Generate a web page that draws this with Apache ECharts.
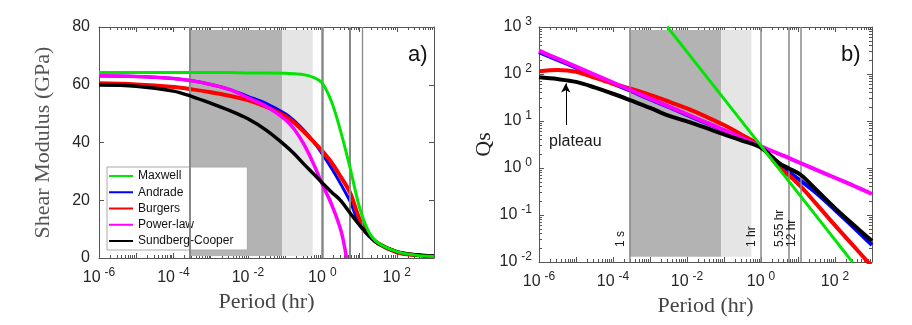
<!DOCTYPE html>
<html>
<head>
<meta charset="utf-8">
<script src="https://cdn.jsdelivr.net/npm/echarts@6/dist/echarts.min.js"></script>
<style>
  html, body { margin: 0; padding: 0; background: #fff; }
  #main { width: 912px; height: 325px; }
</style>
</head>
<body>
<div id="main"></div>
<script>
// ---- data ----
// panel a) shear modulus (GPa) vs period (hr)
const periodA = [1e-6, 1e-5, 1e-4, 3.16e-4, 1e-3, 3.16e-3, 0.01, 0.0316, 0.1, 0.178, 0.316, 0.562, 1, 1.78, 3.16, 5.62, 10, 17.8, 31.6, 100, 316, 1000]
const maxwellG = [64.2, 64.2, 64.2, 64.2, 64.2, 64.2, 64.1, 64.1, 64.0, 63.8, 63.5, 62.6, 60.5, 54, 43.5, 31, 17.5, 9, 5.2, 2.2, 1.0, 0.5]
const andradeG = [63.0, 62.9, 62.2, 61.4, 60.1, 58.4, 56.0, 53.5, 50.0, 47.5, 44.3, 40.5, 36.0, 31.0, 25.5, 19.5, 11.5, 7.5, 5.0, 2.0, 1.0, 0.6]
const burgersG = [60.5, 60.1, 59.2, 58.4, 57.4, 56.2, 54.7, 52.3, 49.2, 46.8, 43.8, 40.5, 37.0, 33.0, 28.0, 22.5, 13.5, 8.0, 5.0, 2.0, 1.0, 0.6]
const sundbergG = [59.9, 59.5, 57.8, 55.9, 53.6, 51.1, 48.2, 44.2, 39.0, 36.0, 32.6, 29.3, 26.0, 22.8, 19.8, 15.5, 11.4, 8.0, 5.0, 2.2, 1.1, 0.7]
const periodPL = [1e-6, 1e-5, 1e-4, 3.16e-4, 1e-3, 3.16e-3, 0.01, 0.0316, 0.1, 0.178, 0.316, 0.562, 1, 1.78, 3.16, 4.47]
const powerLawG = [63.1, 62.9, 62.2, 61.4, 60.1, 58.4, 55.5, 52.5, 48.0, 44.5, 39.5, 33.0, 25.5, 18.5, 9.5, 0]

// panel b) Qs vs period (hr)
const periodB = [1e-6, 3.16e-6, 1e-5, 3.16e-5, 1e-4, 3.16e-4, 1e-3, 3.16e-3, 0.01, 0.0316, 0.1, 0.316, 1, 3.16, 5.55, 12, 31.6, 100, 316, 1000]
const andradeQ = [290, 200, 136, 92, 63, 43, 29, 20, 13.5, 9.2, 6.3, 4.2, 2.8, 1.1, 0.83, 0.53, 0.29, 0.128, 0.055, 0.023]
const burgersQ = [114, 121, 112, 84, 62, 48, 36, 26, 18.5, 12.5, 8.2, 5.0, 2.9, 1.0, 0.71, 0.4, 0.17, 0.06, 0.022, 0.008]
const powerLawQ = [313, 212, 144, 97, 66, 44.5, 30, 20.5, 13.9, 9.4, 6.4, 4.3, 2.9, 1.97, 1.64, 1.26, 0.91, 0.62, 0.42, 0.28]
const sundbergQ = [85, 78, 68, 52, 38, 27, 19, 13, 9.8, 7.2, 5.2, 3.8, 2.7, 1.26, 0.99, 0.71, 0.34, 0.14, 0.062, 0.028]
const periodM = [0.0029, 0.01, 0.1, 1, 10, 100, 300]
const maxwellQ = [1020, 295, 29.5, 2.95, 0.295, 0.0295, 0.0098]

// reference periods and observation bands
const markerPeriods = [1 / 3600, 1, 5.55, 12]
const markerLabels = ["1 s", "1 hr", "5.55 hr", "12 hr"]
const darkBand = [1 / 3600, 0.0833]
const lightBand = [0.0833, 0.55]
const bandG = [0.7, 79]
const bandQ = [0.013, 860]
const rangeG = [0, 80]
const rangeQ = [0.01, 1000]
const rangeP = [1e-6, 1e3]

const names = ["Maxwell", "Andrade", "Burgers", "Power-law", "Sundberg-Cooper"]
const colors = { Maxwell: "#00e600", Andrade: "#0000ff", Burgers: "#ff0000", "Power-law": "#ff00ff", "Sundberg-Cooper": "#000000" }

const SANS = "Liberation Sans, Arial, sans-serif"
const SERIF = "Liberation Serif, Times New Roman, serif"
const AXIS_COLOR = "#555"

function pairs (xs, ys) {
  return xs.map((x, i) => [x, ys[i]])
}

function curve (name, xs, ys, width, idx, z) {
  return {
    name: name,
    type: "line",
    xAxisIndex: idx,
    yAxisIndex: idx,
    data: pairs(xs, ys),
    symbol: "none",
    smooth: 0.35,
    clip: true,
    z: z,
    lineStyle: { color: colors[name], width: width },
    itemStyle: { color: colors[name] },
    animation: false
  }
}

// only every second decade gets a label on the period axes
function periodLabel (v) {
  const p = Math.round(Math.log10(v))
  return p % 2 === 0 ? "{b|10}{s|" + p + "}" : ""
}
function qLabel (v) {
  const p = Math.round(Math.log10(v))
  return "{b|10}{s|" + p + "}"
}
const richLabel = {
  b: { fontSize: 16, fontFamily: SANS, color: "#262626" },
  s: { fontSize: 12, fontFamily: SANS, color: "#262626", padding: [0, 0, 10, 4] }
}

function frameAxis (grid, extra) {
  return Object.assign({
    gridIndex: grid,
    axisLine: { show: true, onZero: false, lineStyle: { color: AXIS_COLOR, width: 1 } },
    axisTick: { show: true, inside: true, length: 5, lineStyle: { color: AXIS_COLOR } },
    minorTick: { show: extra.type === "log", splitNumber: 9, length: 3, lineStyle: { color: AXIS_COLOR } },
    splitLine: { show: false },
    axisLabel: { show: false }
  }, extra)
}

function bands (idx, yr) {
  return {
    type: "line",
    xAxisIndex: idx,
    yAxisIndex: idx,
    data: [],
    z: 1,
    silent: true,
    markArea: {
      silent: true,
      data: [
        [{ xAxis: darkBand[0], yAxis: yr[0], itemStyle: { color: "#b3b3b3" } }, { xAxis: darkBand[1], yAxis: yr[1] }],
        [{ xAxis: lightBand[0], yAxis: yr[0], itemStyle: { color: "#e5e5e5" } }, { xAxis: lightBand[1], yAxis: yr[1] }]
      ]
    }
  }
}

function markers (idx, yr, widths, withLabels) {
  return {
    type: "line",
    xAxisIndex: idx,
    yAxisIndex: idx,
    data: [],
    z: 2,
    silent: true,
    markLine: {
      silent: true,
      symbol: "none",
      animation: false,
      data: markerPeriods.map((p, i) => [
        {
          coord: [p, yr[0]],
          lineStyle: { color: "#888", width: widths[i], type: "solid" },
          label: {
            show: withLabels,
            formatter: markerLabels[i],
            position: "insideStartTop",
            distance: [15, 3],
            fontSize: 12,
            fontFamily: SANS,
            color: "#1a1a1a"
          }
        },
        { coord: [p, yr[1]] }
      ])
    }
  }
}

const chart = echarts.init(document.getElementById("main"), null, { renderer: "canvas" })

const option = {
  animation: false,
  backgroundColor: "#fff",
  grid: [
    { left: 99, top: 27, width: 335, height: 231, containLabel: false, outerBoundsMode: "none" },
    { left: 539, top: 27, width: 333, height: 235, containLabel: false, outerBoundsMode: "none" }
  ],
  title: [
    { text: "a)", left: 408, top: 44, padding: 0, textStyle: { fontSize: 22, fontWeight: "normal", fontFamily: SANS, color: "#111" } },
    { text: "b)", left: 841, top: 44, padding: 0, textStyle: { fontSize: 22, fontWeight: "normal", fontFamily: SANS, color: "#111" } }
  ],
  legend: {
    data: names.map(n => ({
      name: n,
      icon: "rect",
      itemStyle: { color: colors[n] }
    })),
    orient: "vertical",
    left: 107,
    top: 167,
    itemWidth: 24,
    itemHeight: 2,
    itemGap: 4.25,
    padding: [3, 14, 3, 2],
    backgroundColor: "#fff",
    borderColor: "#aaa",
    borderWidth: 1,
    borderRadius: 0,
    selectedMode: false,
    textStyle: { fontSize: 12, lineHeight: 12, fontFamily: SANS, color: "#111" }
  },
  xAxis: [
    frameAxis(0, {
      type: "log", logBase: 10, min: rangeP[0], max: rangeP[1], position: "bottom",
      axisLabel: { show: true, margin: 9, formatter: periodLabel, rich: richLabel },
      name: "Period (hr)", nameLocation: "middle", nameGap: 33,
      nameTextStyle: { fontSize: 22, fontFamily: SERIF, color: "#444" }
    }),
    frameAxis(0, { type: "log", logBase: 10, min: rangeP[0], max: rangeP[1], position: "top" }),
    frameAxis(1, {
      type: "log", logBase: 10, min: rangeP[0], max: rangeP[1], position: "bottom",
      axisLabel: { show: true, margin: 9, formatter: periodLabel, rich: richLabel },
      name: "Period (hr)", nameLocation: "middle", nameGap: 30,
      nameTextStyle: { fontSize: 22, fontFamily: SERIF, color: "#444" }
    }),
    frameAxis(1, { type: "log", logBase: 10, min: rangeP[0], max: rangeP[1], position: "top" })
  ],
  yAxis: [
    frameAxis(0, {
      type: "value", min: rangeG[0], max: rangeG[1], interval: 20, position: "left",
      axisLabel: { show: true, margin: 9, fontSize: 16, fontFamily: SANS, color: "#262626" },
      name: "Shear Modulus (GPa)", nameLocation: "middle", nameRotate: 90, nameGap: 45,
      nameTextStyle: { fontSize: 22, fontFamily: SERIF, color: "#555" }
    }),
    frameAxis(0, { type: "value", min: rangeG[0], max: rangeG[1], interval: 20, position: "right" }),
    frameAxis(1, {
      type: "log", logBase: 10, min: rangeQ[0], max: rangeQ[1], position: "left",
      axisLabel: { show: true, margin: 7, formatter: qLabel, rich: richLabel },
      name: "Qs", nameLocation: "middle", nameRotate: 90, nameGap: 28,
      nameTextStyle: { fontSize: 22, fontFamily: SERIF, color: "#222" }
    }),
    frameAxis(1, { type: "log", logBase: 10, min: rangeQ[0], max: rangeQ[1], position: "right" })
  ],
  series: [
    bands(0, bandG),
    markers(0, rangeG, [2, 2.5, 2, 1.3], false),
    curve("Andrade", periodA, andradeG, 3, 0, 3),
    curve("Burgers", periodA, burgersG, 4, 0, 4),
    curve("Power-law", periodPL, powerLawG, 3.5, 0, 5),
    curve("Sundberg-Cooper", periodA, sundbergG, 3.5, 0, 6),
    curve("Maxwell", periodA, maxwellG, 3, 0, 7),

    bands(2, bandQ),
    markers(2, rangeQ, [1.5, 1.5, 1.5, 1.5], true),
    curve("Andrade", periodB, andradeQ, 4, 2, 3),
    curve("Burgers", periodB, burgersQ, 4, 2, 4),
    curve("Power-law", periodB, powerLawQ, 4, 2, 5),
    Object.assign(curve("Sundberg-Cooper", periodB, sundbergQ, 4, 2, 6), {
      markLine: {
        silent: true,
        animation: false,
        symbol: ["none", "arrow"],
        symbolSize: [7, 9],
        lineStyle: { color: "#000", width: 1, type: "solid" },
        label: { show: false },
        data: [[{ coord: [5.3e-6, 8.2] }, { coord: [5.3e-6, 63] }]]
      },
      markPoint: {
        silent: true,
        symbol: "circle",
        symbolSize: 1,
        itemStyle: { color: "rgba(0,0,0,0)" },
        label: { show: true, position: "inside", formatter: "plateau", fontSize: 16, fontFamily: SANS, color: "#1a1a1a" },
        data: [{ coord: [9.6e-6, 3.6] }]
      }
    }),
    curve("Maxwell", periodM, maxwellQ, 3, 2, 7)
  ]
}

chart.setOption(option)
</script>
</body>
</html>
